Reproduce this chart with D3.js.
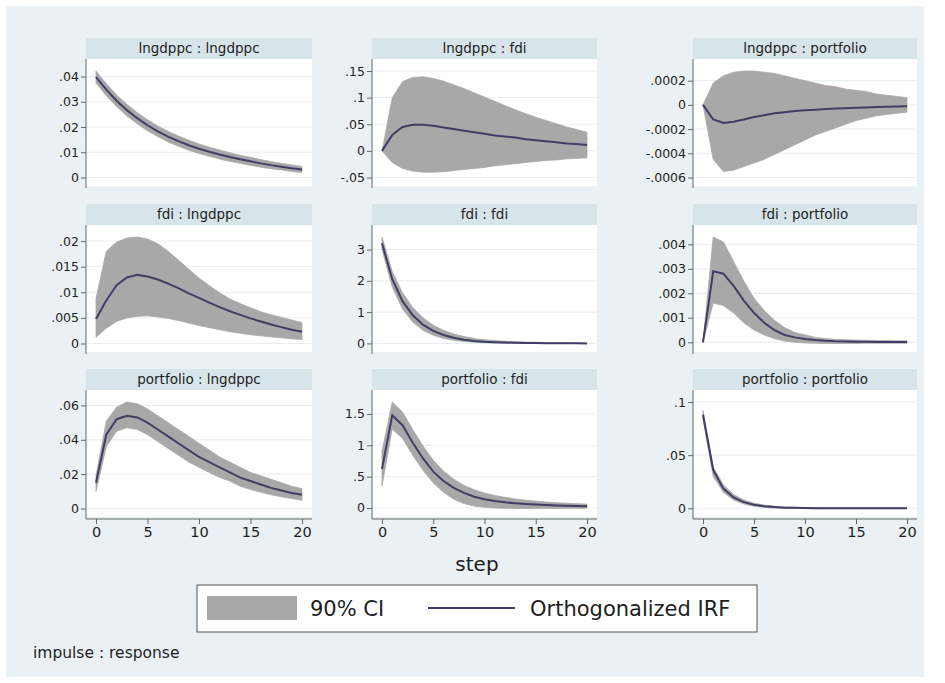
<!DOCTYPE html>
<html>
<head>
<meta charset="utf-8">
<script src="https://cdn.jsdelivr.net/npm/d3@7"></script>
<style>
  body { margin: 0; background: #ffffff; }
  svg { display: block; font-family: "DejaVu Sans", sans-serif; }
</style>
</head>
<body>
<div id="chart"></div>
<script>
// steps 0..20
const steps = d3.range(0, 21);
const xTicks = [0, 5, 10, 15, 20];

// impulse : response series
const lngdppcLngdppcIrf = [.0398,.0348,.0304,.0267,.0235,.0207,.0183,.0162,.0144,.0128,.0114,.0102,.0091,.0081,.0072,.0064,.0056,.0049,.0043,.0037,.0032];
const lngdppcLngdppcLo  = [.0374,.0324,.0281,.0244,.0213,.0185,.0162,.0141,.0124,.0108,.0095,.0084,.0073,.0064,.0056,.0048,.0041,.0035,.0030,.0024,.0020];
const lngdppcLngdppcHi  = [.0422,.0372,.0327,.0290,.0257,.0229,.0204,.0183,.0164,.0148,.0133,.0120,.0109,.0098,.0088,.0080,.0071,.0063,.0056,.0050,.0044];

const lngdppcFdiIrf = [0,.030,.045,.049,.049,.047,.044,.041,.038,.035,.032,.029,.027,.025,.022,.020,.018,.016,.014,.013,.011];
const lngdppcFdiLo  = [0,-.022,-.033,-.038,-.040,-.040,-.039,-.037,-.035,-.033,-.031,-.028,-.026,-.024,-.022,-.020,-.018,-.017,-.015,-.014,-.013];
const lngdppcFdiHi  = [0,.100,.130,.138,.139,.136,.131,.124,.117,.109,.101,.093,.085,.077,.070,.063,.057,.051,.045,.040,.035];

const lngdppcPortIrf = [0,-.00012,-.00015,-.00014,-.00012,-.00010,-.000085,-.00007,-.00006,-.00005,-.000045,-.00004,-.000035,-.00003,-.000027,-.000024,-.000021,-.000018,-.000015,-.000013,-.000011];
const lngdppcPortLo  = [0,-.00045,-.00055,-.00054,-.00051,-.00048,-.00045,-.00041,-.00037,-.00033,-.00029,-.00025,-.00022,-.00019,-.00016,-.00013,-.00011,-.00009,-.00008,-.00007,-.00006];
const lngdppcPortHi  = [0,.00018,.00024,.00027,.00028,.00028,.00027,.00026,.00024,.00022,.00020,.00018,.00016,.00015,.00013,.00012,.00011,.00009,.00008,.00007,.00006];

const fdiLngdppcIrf = [.0048,.0084,.0114,.0129,.0134,.0131,.0125,.0117,.0108,.0098,.0089,.0080,.0071,.0063,.0056,.0049,.0043,.0037,.0032,.0027,.0023];
const fdiLngdppcLo  = [.0012,.0030,.0043,.0050,.0053,.0054,.0052,.0049,.0045,.0040,.0035,.0031,.0027,.0023,.0020,.0017,.0015,.0013,.0011,.0009,.0008];
const fdiLngdppcHi  = [.0088,.0180,.0198,.0206,.0208,.0204,.0195,.0180,.0163,.0145,.0128,.0113,.0099,.0087,.0078,.0070,.0062,.0056,.0051,.0046,.0041];

const fdiFdiIrf = [3.2,2.05,1.35,0.9,0.6,0.4,0.27,0.18,0.12,0.08,0.055,0.04,0.03,0.02,0.015,0.01,0.008,0.006,0.004,0.003,0.002];
const fdiFdiLo  = [3.0,1.8,1.1,0.68,0.42,0.26,0.16,0.10,0.06,0.035,0.02,0.012,0.006,0.003,0.001,0,-0.001,-0.001,-0.002,-0.002,-0.002];
const fdiFdiHi  = [3.4,2.3,1.62,1.15,0.82,0.58,0.42,0.30,0.22,0.16,0.12,0.09,0.07,0.055,0.045,0.035,0.028,0.022,0.018,0.015,0.012];

const fdiPortIrf = [0,.0029,.0028,.0023,.0017,.0012,.0008,.0005,.0003,.0002,.00013,.00009,.00006,.00004,.00003,.00002,.00002,.00001,.00001,.00001,.00001];
const fdiPortLo  = [0,.0016,.0015,.0012,.0008,.0005,.0003,.00015,.00005,0,-.00003,-.00004,-.00005,-.00005,-.00005,-.00005,-.00004,-.00004,-.00004,-.00004,-.00004];
const fdiPortHi  = [0,.0043,.0041,.0033,.0025,.0018,.0013,.0009,.0006,.0004,.0003,.0002,.00015,.00012,.0001,.00009,.00008,.00007,.00007,.00006,.00006];

const portLngdppcIrf = [.015,.043,.052,.054,.053,.050,.046,.042,.038,.034,.030,.027,.024,.021,.018,.016,.014,.012,.0105,.009,.008];
const portLngdppcLo  = [.010,.036,.045,.047,.046,.043,.039,.035,.031,.027,.024,.021,.018,.016,.013,.011,.0095,.008,.0068,.0058,.0048];
const portLngdppcHi  = [.019,.051,.059,.062,.061,.058,.054,.050,.046,.042,.038,.034,.030,.027,.024,.021,.019,.017,.015,.013,.0115];

const portFdiIrf = [.62,1.48,1.32,1.04,.79,.58,.43,.32,.24,.18,.14,.11,.09,.075,.063,.054,.047,.041,.036,.032,.029];
const portFdiLo  = [.35,1.26,1.11,.84,.60,.40,.25,.14,.07,.03,.01,0,-.005,-.008,-.008,-.008,-.007,-.006,-.005,-.004,-.004];
const portFdiHi  = [.90,1.69,1.53,1.25,.99,.76,.59,.46,.36,.29,.24,.20,.17,.145,.125,.11,.095,.085,.075,.068,.062];

const portPortIrf = [.088,.036,.0185,.0102,.0058,.0034,.0019,.0011,.0006,.0004,.0002,.0001,.0001,.0001,0,0,0,0,0,0,0];
const portPortLo  = [.084,.030,.015,.0078,.0040,.0020,.0009,.0003,0,-.0001,-.0002,-.0002,-.0002,-.0002,-.0002,-.0002,-.0002,-.0002,-.0002,-.0002,-.0002];
const portPortHi  = [.092,.039,.022,.013,.0078,.0048,.003,.0019,.0013,.0009,.0006,.0005,.0004,.0003,.0003,.0002,.0002,.0002,.0002,.0002,.0002];

// y tick values per panel
const ticksLngdppcLngdppc = [0, .01, .02, .03, .04];
const ticksLngdppcFdi = [-.05, 0, .05, .1, .15];
const ticksLngdppcPort = [-.0006, -.0004, -.0002, 0, .0002];
const ticksFdiLngdppc = [0, .005, .01, .015, .02];
const ticksFdiFdi = [0, 1, 2, 3];
const ticksFdiPort = [0, .001, .002, .003, .004];
const ticksPortLngdppc = [0, .02, .04, .06];
const ticksPortFdi = [0, .5, 1, 1.5];
const ticksPortPort = [0, .05, .1];

const panels = [
  { title: "lngdppc : lngdppc", irf: lngdppcLngdppcIrf, lo: lngdppcLngdppcLo, hi: lngdppcLngdppcHi, ticks: ticksLngdppcLngdppc },
  { title: "lngdppc : fdi", irf: lngdppcFdiIrf, lo: lngdppcFdiLo, hi: lngdppcFdiHi, ticks: ticksLngdppcFdi },
  { title: "lngdppc : portfolio", irf: lngdppcPortIrf, lo: lngdppcPortLo, hi: lngdppcPortHi, ticks: ticksLngdppcPort },
  { title: "fdi : lngdppc", irf: fdiLngdppcIrf, lo: fdiLngdppcLo, hi: fdiLngdppcHi, ticks: ticksFdiLngdppc },
  { title: "fdi : fdi", irf: fdiFdiIrf, lo: fdiFdiLo, hi: fdiFdiHi, ticks: ticksFdiFdi },
  { title: "fdi : portfolio", irf: fdiPortIrf, lo: fdiPortLo, hi: fdiPortHi, ticks: ticksFdiPort },
  { title: "portfolio : lngdppc", irf: portLngdppcIrf, lo: portLngdppcLo, hi: portLngdppcHi, ticks: ticksPortLngdppc },
  { title: "portfolio : fdi", irf: portFdiIrf, lo: portFdiLo, hi: portFdiHi, ticks: ticksPortFdi },
  { title: "portfolio : portfolio", irf: portPortIrf, lo: portPortLo, hi: portPortHi, ticks: ticksPortPort }
];

const width = 945;
const height = 683;

// layout of the 3x3 grid
const colLeft = [86, 372, 693];
const colRight = [312, 597, 917];
const rowTop = [38, 204, 369];
const stripH = 21;
const plotH = 127;
const padX = 10, padTop = 12, padBottom = 8.5;

const ciColor = "#a8a8a8";
const lineColor = "#403e66";

// Stata-style number labels: drop the leading zero
const fmt = v => String(+v.toPrecision(6)).replace(/^(-?)0\./, "$1.");

const svg = d3.select("#chart")
  .append("svg")
  .attr("width", width)
  .attr("height", height);

svg.append("rect")
  .attr("x", 6).attr("y", 6)
  .attr("width", 918).attr("height", 671)
  .attr("fill", "#eaf1f4");

panels.forEach((p, i) => {
  const col = i % 3, row = Math.floor(i / 3);
  const left = colLeft[col], right = colRight[col];
  const top = rowTop[row] + stripH, bottom = top + plotH;

  const x = d3.scaleLinear().domain([0, 20]).range([left + padX, right - padX]);
  const yMin = Math.min(d3.min(p.ticks), d3.min(p.lo));
  const yMax = Math.max(d3.max(p.ticks), d3.max(p.hi));
  const y = d3.scaleLinear().domain([yMin, yMax]).range([bottom - padBottom, top + padTop]);

  const g = svg.append("g");

  // header strip
  g.append("rect")
    .attr("x", left).attr("y", rowTop[row])
    .attr("width", right - left).attr("height", stripH)
    .attr("fill", "#d7e4ea");
  g.append("text")
    .attr("x", (left + right) / 2)
    .attr("y", rowTop[row] + 15)
    .attr("text-anchor", "middle")
    .attr("font-size", 13.5)
    .attr("fill", "#1e1e1e")
    .text(p.title);

  // plot region
  g.append("rect")
    .attr("x", left).attr("y", top)
    .attr("width", right - left).attr("height", plotH)
    .attr("fill", "#ffffff");

  // grid lines
  g.selectAll(".grid")
    .data(p.ticks)
    .join("line")
    .attr("x1", left).attr("x2", right)
    .attr("y1", d => y(d)).attr("y2", d => y(d))
    .attr("stroke", "#e6eef1")
    .attr("stroke-width", 1);

  // confidence band
  const area = d3.area()
    .x((d, k) => x(steps[k]))
    .y0((d, k) => y(p.lo[k]))
    .y1((d, k) => y(p.hi[k]));
  g.append("path")
    .datum(p.irf)
    .attr("d", area)
    .attr("fill", ciColor)
    .attr("stroke", ciColor)
    .attr("stroke-width", 0.8);

  // orthogonalized IRF
  const line = d3.line()
    .x((d, k) => x(steps[k]))
    .y(d => y(d));
  g.append("path")
    .datum(p.irf)
    .attr("d", line)
    .attr("fill", "none")
    .attr("stroke", lineColor)
    .attr("stroke-width", 2);

  // y axis
  const yAxis = g.append("g")
    .attr("transform", `translate(${left},0)`)
    .call(d3.axisLeft(y).tickValues(p.ticks).tickSize(5).tickSizeOuter(0).tickFormat(fmt));
  yAxis.select(".domain").remove();
  yAxis.selectAll("line").attr("stroke", "#666");
  yAxis.selectAll("text")
    .attr("font-family", "DejaVu Sans, sans-serif")
    .attr("font-size", 12.5)
    .attr("fill", "#1e1e1e")
    .attr("x", -7);
  g.append("line")
    .attr("x1", left).attr("x2", left)
    .attr("y1", top).attr("y2", bottom + 2)
    .attr("stroke", "#666");

  // x axis on bottom row only
  if (row === 2) {
    const xAxis = g.append("g")
      .attr("transform", `translate(0,${bottom + 2})`)
      .call(d3.axisBottom(x).tickValues(xTicks).tickSize(5).tickSizeOuter(0));
    xAxis.select(".domain").remove();
    xAxis.selectAll("line").attr("stroke", "#666");
    xAxis.selectAll("text")
      .attr("font-family", "DejaVu Sans, sans-serif")
      .attr("font-size", 14.5)
      .attr("fill", "#1e1e1e")
      .attr("y", 8);
    g.append("line")
      .attr("x1", left).attr("x2", right)
      .attr("y1", bottom + 2).attr("y2", bottom + 2)
      .attr("stroke", "#666");
  }
});

// x axis title
svg.append("text")
  .attr("x", 477).attr("y", 571)
  .attr("text-anchor", "middle")
  .attr("font-size", 20)
  .attr("fill", "#1e1e1e")
  .text("step");

// legend
const legend = svg.append("g");
legend.append("rect")
  .attr("x", 197).attr("y", 585)
  .attr("width", 560).attr("height", 47)
  .attr("fill", "#ffffff")
  .attr("stroke", "#555")
  .attr("stroke-width", 1);
legend.append("rect")
  .attr("x", 207).attr("y", 596)
  .attr("width", 90).attr("height", 24)
  .attr("fill", ciColor);
legend.append("text")
  .attr("x", 310).attr("y", 616)
  .attr("font-size", 21)
  .attr("fill", "#1e1e1e")
  .text("90% CI");
legend.append("line")
  .attr("x1", 428).attr("x2", 515)
  .attr("y1", 608).attr("y2", 608)
  .attr("stroke", lineColor)
  .attr("stroke-width", 2);
legend.append("text")
  .attr("x", 530).attr("y", 616)
  .attr("font-size", 21)
  .attr("fill", "#1e1e1e")
  .text("Orthogonalized IRF");

// note
svg.append("text")
  .attr("x", 33).attr("y", 658)
  .attr("font-size", 15.5)
  .attr("fill", "#1e1e1e")
  .text("impulse : response");
</script>
</body>
</html>
